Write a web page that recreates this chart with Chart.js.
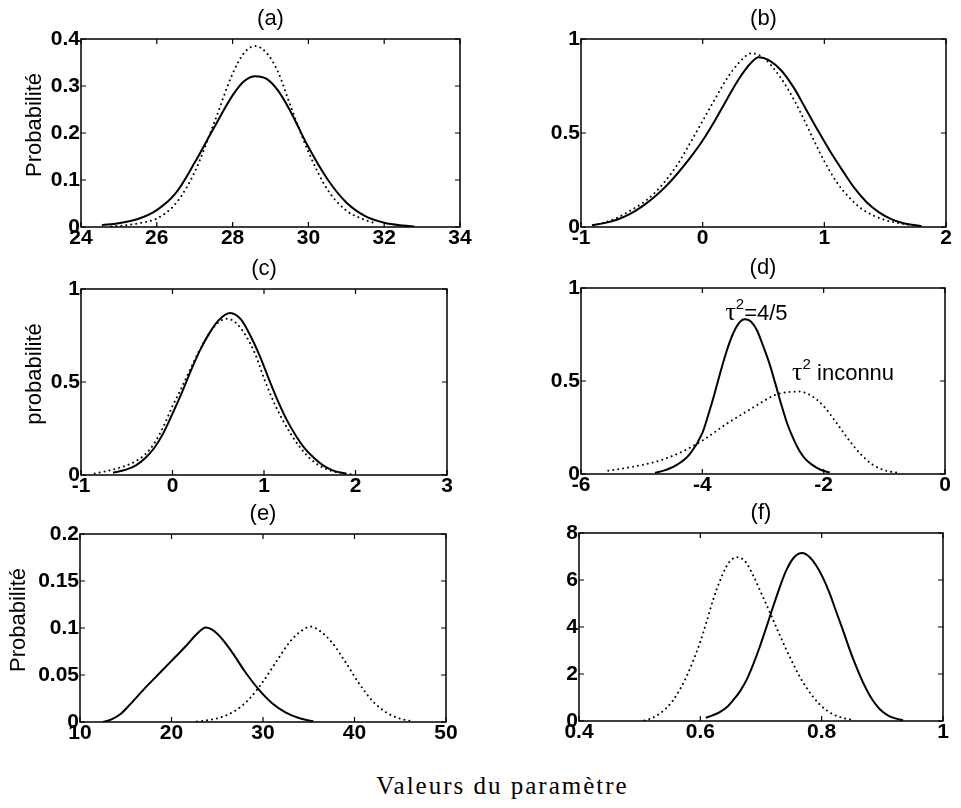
<!DOCTYPE html>
<html>
<head>
<meta charset="utf-8">
<script src="https://cdn.jsdelivr.net/npm/chart.js@4.4.1/dist/chart.umd.min.js"></script>
<style>
    html, body { margin: 0; padding: 0; background: #fff; }
    body { width: 961px; height: 808px; position: relative; overflow: hidden; }
    .panel { position: absolute; }
    .xlabel {
        position: absolute; left: 44px; width: 917px; top: 772px;
        text-align: center; font: 25px "Liberation Serif", serif; letter-spacing: 2px; color: #000;
    }
</style>
</head>
<body>
<div class="xlabel">Valeurs du paramètre</div>

<script>
/* DATA */

// (a)
const aXTicks = [24, 26, 28, 30, 32, 34]
const aYTicks = [0, 0.1, 0.2, 0.3, 0.4]
const aSolidX = [24.55, 25, 25.5, 26, 26.5, 27, 27.5, 28, 28.3, 28.6, 28.9, 29.2, 29.5, 30, 30.5, 31, 31.5, 32, 32.5, 32.8]
const aSolidY = [0.004, 0.008, 0.017, 0.036, 0.072, 0.137, 0.21, 0.28, 0.31, 0.321, 0.315, 0.29, 0.25, 0.17, 0.102, 0.052, 0.023, 0.009, 0.003, 0.001]
const aDotX = [24.8, 25.2, 25.6, 26, 26.5, 27, 27.5, 28, 28.3, 28.6, 28.9, 29.2, 29.5, 30, 30.5, 31, 31.4, 31.8]
const aDotY = [0.001, 0.004, 0.009, 0.018, 0.05, 0.117, 0.219, 0.326, 0.37, 0.385, 0.37, 0.33, 0.264, 0.16, 0.08, 0.035, 0.018, 0.007]

// (b)
const bXTicks = [-1, 0, 1, 2]
const bYTicks = [0, 0.5, 1]
const bSolidX = [-0.91, -0.8, -0.7, -0.6, -0.5, -0.4, -0.3, -0.2, -0.1, 0, 0.1, 0.2, 0.3, 0.4, 0.46, 0.55, 0.65, 0.75, 0.85, 0.95, 1.05, 1.15, 1.25, 1.35, 1.45, 1.55, 1.65, 1.8]
const bSolidY = [0.01, 0.022, 0.04, 0.068, 0.108, 0.158, 0.218, 0.29, 0.37, 0.46, 0.565, 0.68, 0.79, 0.875, 0.903, 0.885, 0.83, 0.74, 0.625, 0.51, 0.4, 0.3, 0.205, 0.13, 0.078, 0.042, 0.02, 0.004]
const bDotX = [-0.9, -0.8, -0.7, -0.6, -0.5, -0.4, -0.3, -0.2, -0.1, 0, 0.1, 0.2, 0.3, 0.4, 0.5, 0.6, 0.7, 0.8, 0.9, 1.0, 1.1, 1.2, 1.3, 1.4, 1.5, 1.6, 1.7]
const bDotY = [0.008, 0.025, 0.05, 0.085, 0.125, 0.178, 0.25, 0.34, 0.45, 0.565, 0.68, 0.79, 0.875, 0.924, 0.9, 0.83, 0.735, 0.615, 0.48, 0.35, 0.24, 0.16, 0.1, 0.062, 0.037, 0.022, 0.012]

// (c)
const cXTicks = [-1, 0, 1, 2, 3]
const cYTicks = [0, 0.5, 1]
const cSolidX = [-0.65, -0.5, -0.4, -0.3, -0.2, -0.1, 0, 0.1, 0.2, 0.3, 0.4, 0.5, 0.63, 0.75, 0.85, 0.95, 1.05, 1.15, 1.25, 1.35, 1.45, 1.55, 1.65, 1.75, 1.9]
const cSolidY = [0.012, 0.03, 0.052, 0.09, 0.145, 0.225, 0.33, 0.44, 0.56, 0.67, 0.76, 0.83, 0.871, 0.835, 0.75, 0.645, 0.52, 0.4, 0.295, 0.21, 0.14, 0.09, 0.05, 0.025, 0.006]
const cDotX = [-0.85, -0.7, -0.5, -0.4, -0.3, -0.2, -0.1, 0, 0.1, 0.2, 0.3, 0.4, 0.5, 0.6, 0.7, 0.8, 0.9, 1.0, 1.1, 1.2, 1.3, 1.4, 1.5, 1.6, 1.75, 1.95]
const cDotY = [0.008, 0.023, 0.052, 0.075, 0.11, 0.17, 0.26, 0.37, 0.47, 0.575, 0.675, 0.76, 0.82, 0.84, 0.815, 0.75, 0.655, 0.52, 0.4, 0.3, 0.215, 0.145, 0.09, 0.052, 0.02, 0.004]

// (d)
const dXTicks = [-6, -4, -2, 0]
const dYTicks = [0, 0.5, 1]
const dSolidX = [-4.78, -4.6, -4.4, -4.2, -4.0, -3.9, -3.8, -3.7, -3.6, -3.5, -3.4, -3.3, -3.2, -3.1, -3.0, -2.9, -2.8, -2.7, -2.6, -2.5, -2.4, -2.3, -2.2, -2.05, -1.9]
const dSolidY = [0.005, 0.022, 0.053, 0.11, 0.22, 0.32, 0.43, 0.55, 0.66, 0.75, 0.81, 0.832, 0.82, 0.773, 0.69, 0.6, 0.49, 0.375, 0.27, 0.19, 0.125, 0.08, 0.052, 0.023, 0.008]
const dDotX = [-5.55, -5.2, -4.8, -4.4, -4.0, -3.6, -3.2, -3.0, -2.8, -2.6, -2.4, -2.2, -2.0, -1.8, -1.6, -1.4, -1.2, -1.0, -0.75]
const dDotY = [0.018, 0.036, 0.063, 0.11, 0.18, 0.27, 0.35, 0.39, 0.425, 0.44, 0.443, 0.42, 0.365, 0.28, 0.19, 0.11, 0.052, 0.02, 0.005]
const dNotes = [
    { x: -3.62, y: 0.83, sup: '2', text: '=4/5' },
    { x: -2.52, y: 0.505, sup: '2', text: ' inconnu' }
]

// (e)
const eXTicks = [10, 20, 30, 40, 50]
const eYTicks = [0, 0.05, 0.1, 0.15, 0.2]
const eSolidX = [12.5, 13.5, 14.5, 15.5, 17, 18.5, 20, 21.5, 22.8, 23.75, 25, 26.5, 28, 29.5, 31, 32.5, 34, 35.5]
const eSolidY = [0, 0.003, 0.009, 0.019, 0.035, 0.05, 0.065, 0.08, 0.094, 0.1005, 0.094, 0.076, 0.054, 0.035, 0.02, 0.01, 0.004, 0.0007]
const eDotX = [22.8, 24, 25.5, 27, 28.5, 30, 31.5, 33, 34.2, 35.2, 36.2, 37.5, 39, 40.5, 42, 43.5, 45, 46.2]
const eDotY = [0.0005, 0.002, 0.0053, 0.0122, 0.0246, 0.043, 0.065, 0.086, 0.097, 0.1015, 0.097, 0.085, 0.064, 0.041, 0.022, 0.01, 0.0035, 0.001]

// (f)
const fXTicks = [0.4, 0.6, 0.8, 1]
const fYTicks = [0, 2, 4, 6, 8]
const fSolidX = [0.609, 0.62, 0.632, 0.645, 0.654, 0.665, 0.676, 0.687, 0.698, 0.709, 0.72, 0.731, 0.742, 0.755, 0.768, 0.78, 0.791, 0.802, 0.813, 0.824, 0.835, 0.846, 0.857, 0.868, 0.879, 0.89, 0.901, 0.912, 0.923, 0.934]
const fSolidY = [0.14, 0.24, 0.38, 0.62, 0.88, 1.25, 1.74, 2.4, 3.16, 4.0, 4.87, 5.7, 6.43, 6.98, 7.15, 6.98, 6.62, 6.1, 5.44, 4.65, 3.87, 3.05, 2.31, 1.65, 1.1, 0.68, 0.38, 0.2, 0.1, 0.03]
const fDotX = [0.508, 0.52, 0.533, 0.544, 0.555, 0.566, 0.577, 0.588, 0.599, 0.61, 0.621, 0.632, 0.643, 0.652, 0.659, 0.667, 0.676, 0.687, 0.698, 0.709, 0.72, 0.731, 0.742, 0.753, 0.764, 0.775, 0.786, 0.797, 0.808, 0.819, 0.83, 0.84, 0.849]
const fDotY = [0.02, 0.12, 0.31, 0.55, 0.88, 1.33, 1.88, 2.55, 3.3, 4.2, 5.15, 5.95, 6.58, 6.88, 6.97, 6.93, 6.72, 6.2, 5.58, 4.95, 4.3, 3.65, 3.02, 2.43, 1.88, 1.42, 1.02, 0.7, 0.46, 0.28, 0.17, 0.1, 0.06]

/* LAYOUT */

const PAD_L = 80
const PAD_T = 35
const PAD_R = 15
const PAD_B = 35
const FONT = '"Liberation Sans", Arial, sans-serif'

// box = plot area in page pixels [left, top, right, bottom]
const panels = [
    { title: '(a)', yLabel: 'Probabilité', yLabelX: 35, box: [81, 39, 460, 227], xTicks: aXTicks, yTicks: aYTicks, solid: [aSolidX, aSolidY], dot: [aDotX, aDotY] },
    { title: '(b)', box: [581, 39, 946, 227], xTicks: bXTicks, yTicks: bYTicks, solid: [bSolidX, bSolidY], dot: [bDotX, bDotY] },
    { title: '(c)', yLabel: 'probabilité', yLabelX: 35, box: [81, 289, 447, 475], xTicks: cXTicks, yTicks: cYTicks, solid: [cSolidX, cSolidY], dot: [cDotX, cDotY] },
    { title: '(d)', box: [581, 288, 945, 474], xTicks: dXTicks, yTicks: dYTicks, solid: [dSolidX, dSolidY], dot: [dDotX, dDotY], notes: dNotes },
    { title: '(e)', yLabel: 'Probabilité', yLabelX: 19, box: [80, 534, 446, 722], xTicks: eXTicks, yTicks: eYTicks, solid: [eSolidX, eSolidY], dot: [eDotX, eDotY] },
    { title: '(f)', box: [579, 533, 943, 721], xTicks: fXTicks, yTicks: fYTicks, solid: [fSolidX, fSolidY], dot: [fDotX, fDotY] }
]

function toPoints(xs, ys) {
    return xs.map((x, i) => ({ x, y: ys[i] }))
}

function fmt(v) {
    return String(+Number(v).toFixed(4))
}

/* frame, inward ticks, titles, notes */
const framePlugin = {
    id: 'frame',
    afterDraw(chart, args, opts) {
        const { ctx, chartArea: a, scales } = chart
        const len = 5
        ctx.save()
        ctx.strokeStyle = '#000'
        ctx.fillStyle = '#000'
        ctx.lineWidth = 1.5
        ctx.strokeRect(a.left, a.top, a.right - a.left, a.bottom - a.top)

        ctx.lineWidth = 1.2
        ctx.beginPath()
        scales.x.ticks.forEach((t) => {
            const px = scales.x.getPixelForValue(t.value)
            ctx.moveTo(px, a.bottom); ctx.lineTo(px, a.bottom - len)
            ctx.moveTo(px, a.top); ctx.lineTo(px, a.top + len)
        })
        scales.y.ticks.forEach((t) => {
            const py = scales.y.getPixelForValue(t.value)
            ctx.moveTo(a.left, py); ctx.lineTo(a.left + len, py)
            ctx.moveTo(a.right, py); ctx.lineTo(a.right - len, py)
        })
        ctx.stroke()

        ctx.font = '22px ' + FONT
        ctx.textAlign = 'center'
        ctx.textBaseline = 'middle'
        ctx.fillText(opts.title, (a.left + a.right) / 2, a.top - 20)

        if (opts.yLabel) {
            ctx.save()
            ctx.translate(opts.yLabelX, (a.top + a.bottom) / 2 - 8)
            ctx.rotate(-Math.PI / 2)
            ctx.fillText(opts.yLabel, 0, 0)
            ctx.restore()
        }

        ;(opts.notes || []).forEach((n) => {
            let x = scales.x.getPixelForValue(n.x)
            const y = scales.y.getPixelForValue(n.y)
            ctx.textAlign = 'left'
            ctx.textBaseline = 'alphabetic'
            ctx.font = '26px "Liberation Serif", serif'
            ctx.fillText('τ', x, y)
            x += ctx.measureText('τ').width
            ctx.font = '15px ' + FONT
            ctx.fillText(n.sup, x, y - 11)
            x += ctx.measureText(n.sup).width
            ctx.font = '22px ' + FONT
            ctx.fillText(n.text, x, y)
        })
        ctx.restore()
    }
}

function makePanel(p) {
    const [l, t, r, b] = p.box
    const div = document.createElement('div')
    div.className = 'panel'
    const left = l - PAD_L
    const top = t - PAD_T
    const w = (r - l) + PAD_L + PAD_R
    const h = (b - t) + PAD_T + PAD_B
    div.style.left = left + 'px'
    div.style.top = top + 'px'
    div.style.width = w + 'px'
    div.style.height = h + 'px'
    const canvas = document.createElement('canvas')
    div.appendChild(canvas)
    document.body.appendChild(div)

    const tickFont = { family: FONT, size: 21, weight: 'bold', lineHeight: 1 }

    new Chart(canvas, {
        type: 'scatter',
        data: {
            datasets: [
                {
                    data: toPoints(p.solid[0], p.solid[1]),
                    showLine: true,
                    borderColor: '#000',
                    borderWidth: 2,
                    pointRadius: 0,
                    cubicInterpolationMode: 'monotone'
                },
                {
                    data: toPoints(p.dot[0], p.dot[1]),
                    showLine: true,
                    borderColor: '#000',
                    borderWidth: 2,
                    borderDash: [0.01, 5],
                    borderCapStyle: 'round',
                    pointRadius: 0,
                    cubicInterpolationMode: 'monotone'
                }
            ]
        },
        options: {
            responsive: true,
            maintainAspectRatio: false,
            animation: false,
            events: [],
            layout: { padding: { left: 0, top: PAD_T, right: PAD_R, bottom: 0 } },
            plugins: {
                legend: { display: false },
                tooltip: { enabled: false },
                frame: { title: p.title, yLabel: p.yLabel, yLabelX: (p.yLabelX || 0) - left, notes: p.notes }
            },
            scales: {
                x: {
                    type: 'linear',
                    min: p.xTicks[0],
                    max: p.xTicks[p.xTicks.length - 1],
                    afterBuildTicks: (s) => { s.ticks = p.xTicks.map((v) => ({ value: v })) },
                    afterFit: (s) => { s.height = PAD_B },
                    grid: { display: false, drawTicks: false },
                    border: { display: false },
                    ticks: { color: '#000', font: tickFont, padding: 1, maxRotation: 0, autoSkip: false, callback: fmt }
                },
                y: {
                    type: 'linear',
                    min: p.yTicks[0],
                    max: p.yTicks[p.yTicks.length - 1],
                    afterBuildTicks: (s) => { s.ticks = p.yTicks.map((v) => ({ value: v })) },
                    afterFit: (s) => { s.width = PAD_L },
                    grid: { display: false, drawTicks: false },
                    border: { display: false },
                    ticks: { color: '#000', font: tickFont, padding: 1, callback: fmt }
                }
            }
        },
        plugins: [framePlugin]
    })
}

panels.forEach(makePanel)
</script>
</body>
</html>
